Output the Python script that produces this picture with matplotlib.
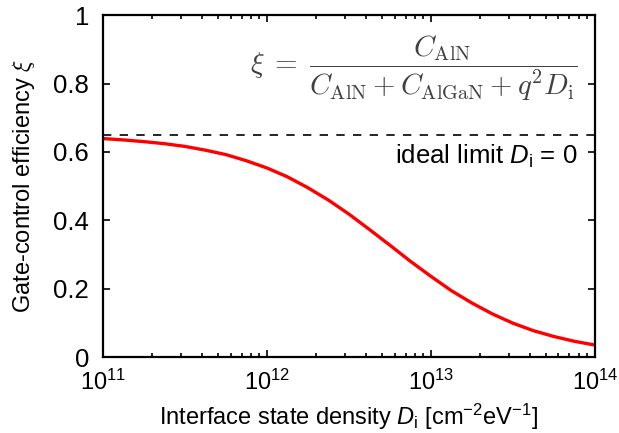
import matplotlib
matplotlib.use("Agg")
import matplotlib.pyplot as plt
import numpy as np

# --- Data ---------------------------------------------------------------------

log_di = [11.0, 11.125, 11.25, 11.375, 11.5, 11.625, 11.75, 11.875,
          12.0, 12.125, 12.25, 12.375, 12.5, 12.625, 12.75, 12.875,
          13.0, 13.125, 13.25, 13.375, 13.5, 13.625, 13.75, 13.875, 14.0]
xi = [0.639, 0.635, 0.630, 0.624, 0.616, 0.605, 0.592, 0.574,
      0.553, 0.527, 0.495, 0.459, 0.418, 0.373, 0.327, 0.280,
      0.236, 0.194, 0.158, 0.126, 0.099, 0.077, 0.060, 0.046, 0.035]
ideal_limit = 0.65

y_ticks = [0, 0.2, 0.4, 0.6, 0.8, 1.0]
y_ticklabels = ["0", "0.2", "0.4", "0.6", "0.8", "1"]
x_ticks = [1e11, 1e12, 1e13, 1e14]
x_ticklabels = [r"$10^{11}$", r"$10^{12}$", r"$10^{13}$", r"$10^{14}$"]

# --- Style --------------------------------------------------------------------

plt.rcParams["font.family"] = ["Liberation Sans", "DejaVu Sans"]
plt.rcParams["mathtext.fontset"] = "custom"
plt.rcParams["mathtext.rm"] = "Liberation Sans"
plt.rcParams["mathtext.it"] = "Liberation Sans:italic"
plt.rcParams["mathtext.bf"] = "Liberation Sans:bold"

FS = 17

# --- Plot ---------------------------------------------------------------------

fig = plt.figure(figsize=(6.19, 4.33), dpi=100)
ax = fig.add_axes([0.1664, 0.1755, 0.7946, 0.7895])

di = 10 ** np.array(log_di)
ax.plot(di, xi, color="#ff0000", linewidth=2.4, solid_capstyle="butt")
ax.axhline(ideal_limit, color="black", linewidth=1.2, linestyle=(0, (5, 5)))

ax.set_xscale("log")
ax.set_xlim(1e11, 1e14)
ax.set_ylim(0, 1)

ax.set_yticks(y_ticks)
ax.set_yticklabels(y_ticklabels)
ax.set_xticks(x_ticks)
ax.set_xticklabels(x_ticklabels)

ax.tick_params(which="both", direction="in", top=True, right=True, width=1.2)
ax.tick_params(which="major", length=5)
ax.tick_params(which="minor", length=3)
ax.tick_params(axis="y", which="major", labelsize=18.5, pad=10)
ax.tick_params(axis="x", which="major", labelsize=17, pad=9)
for s in ax.spines.values():
    s.set_linewidth(1.6)

ax.set_xlabel(r"Interface state density $D_{\rm i}$ [cm$^{-2}$eV$^{-1}$]",
              fontsize=FS, labelpad=5)
ax.set_ylabel(r"Gate-control efficiency $\xi$", fontsize=FS, labelpad=12,
              math_fontfamily="cm")

ax.text(0.964, 0.845,
        r"$\xi\; =\; \dfrac{C_{\rm AlN}}{C_{\rm AlN} + C_{\rm AlGaN} + q^2 D_{\rm i}}$",
        transform=ax.transAxes, ha="right", va="center", fontsize=20.8,
        color="#404040", math_fontfamily="cm")
ax.text(0.965, 0.588, r"ideal limit $D_{\rm i}$ = 0", transform=ax.transAxes,
        ha="right", va="center", fontsize=18.5)

plt.savefig("out.png", dpi=100)
plt.close()
